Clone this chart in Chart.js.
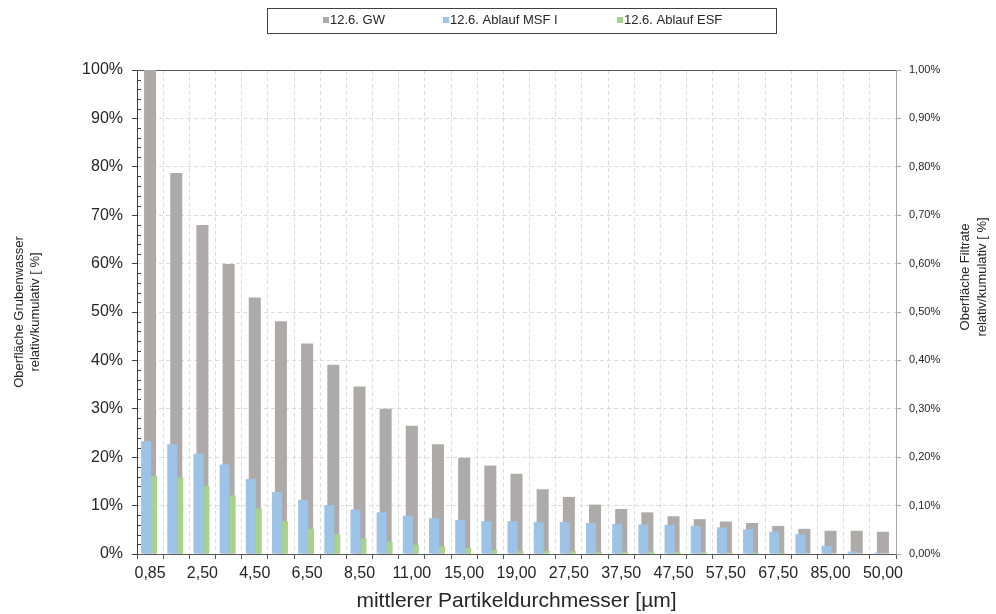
<!DOCTYPE html>
<html lang="de">
<head>
<meta charset="UTF-8">
<title>Oberfläche Partikel</title>
<script src="https://cdn.jsdelivr.net/npm/chart.js"></script>
<style>
  body { margin: 0; background: #fff; }
  #chart { display: block; }
</style>
</head>
<body>
<canvas id="chart" width="996" height="614"></canvas>
<script>
// mittlerer Partikeldurchmesser (nur jede zweite Klasse wird beschriftet)
const categories = ['0,85','1,50','2,50','3,50','4,50','5,50','6,50','7,50','8,50','9,50',
                    '11,00','13,00','15,00','17,00','19,00','22,50','27,50','32,50','37,50','42,50',
                    '47,50','52,50','57,50','62,50','67,50','75,00','85,00','95,00','50,00'];

// linke Achse [%]
const gwValues = [100, 78.7, 68.0, 59.9, 53.0, 48.1, 43.5, 39.1, 34.6, 30.0,
                  26.5, 22.7, 19.9, 18.3, 16.6, 13.4, 11.8, 10.2, 9.3, 8.6,
                  7.8, 7.2, 6.7, 6.4, 5.8, 5.2, 4.8, 4.8, 4.6];

// rechte Achse [%]
const msfValues = [0.233, 0.227, 0.207, 0.185, 0.155, 0.128, 0.112, 0.101, 0.092, 0.086,
                   0.079, 0.074, 0.070, 0.068, 0.068, 0.066, 0.066, 0.064, 0.062, 0.061,
                   0.060, 0.058, 0.055, 0.051, 0.046, 0.041, 0.017, 0.005, 0.003];
const esfValues = [0.161, 0.158, 0.140, 0.121, 0.094, 0.068, 0.052, 0.041, 0.032, 0.025,
                   0.019, 0.016, 0.012, 0.008, 0.006, 0.006, 0.006, 0.005, 0.005, 0.005,
                   0.005, 0.004, 0.003, 0.003, 0.002, 0.0015, 0.001, 0.0005, 0.0005];

const seriesNames = ['12.6. GW', '12.6. Ablauf MSF I', '12.6. Ablauf ESF'];
const seriesColors = ['#aeaaaa', '#9dc3e6', '#a9d18e'];

const leftTitle = ['Oberfläche Grubenwasser', 'relativ/kumulativ [ %]'];
const rightTitle = ['Oberfläche Filtrate', 'relativ/kumulativ [ %]'];
const xTitle = 'mittlerer Partikeldurchmesser [µm]';

const FONT = "'Liberation Sans', Arial, sans-serif";
Chart.defaults.font.family = FONT;
Chart.defaults.color = '#262626';

// Legende mit Rahmen, Titel rechts, kleine Zwischenstriche links, obere Linie
const extras = {
  id: 'extras',
  beforeDatasetsDraw(chart) {
    const { ctx, chartArea: a, scales } = chart;
    ctx.save();
    ctx.strokeStyle = '#404040';
    ctx.lineWidth = 1;
    ctx.beginPath();
    for (let v = 2; v < 100; v += 2) {
      if (v % 10 === 0) continue;
      const py = Math.round(scales.y.getPixelForValue(v)) + 0.5;
      ctx.moveTo(a.left, py);
      ctx.lineTo(a.left + 4, py);
    }
    ctx.stroke();
    ctx.strokeStyle = '#595959';
    ctx.beginPath();
    ctx.moveTo(a.left, Math.round(a.top) + 0.5);
    ctx.lineTo(a.right, Math.round(a.top) + 0.5);
    ctx.stroke();
    ctx.restore();
  },
  afterDraw(chart) {
    const ctx = chart.ctx;
    ctx.save();
    // Legende
    ctx.strokeStyle = '#404040';
    ctx.lineWidth = 1;
    ctx.strokeRect(267.5, 8.5, 509, 25);
    const starts = [323, 443, 617];
    ctx.font = '13px ' + FONT;
    ctx.textBaseline = 'middle';
    ctx.textAlign = 'left';
    chart.data.datasets.forEach((ds, i) => {
      ctx.fillStyle = ds.backgroundColor;
      ctx.fillRect(starts[i], 17, 6, 6);
      ctx.fillStyle = '#262626';
      ctx.fillText(ds.label, starts[i] + 7, 20.5);
    });
    // Titel rechte Achse
    ctx.font = '13px ' + FONT;
    ctx.textAlign = 'center';
    const xs = [965, 982];
    rightTitle.forEach((line, i) => {
      ctx.save();
      ctx.translate(xs[i], 277);
      ctx.rotate(-Math.PI / 2);
      ctx.fillText(line, 0, 0);
      ctx.restore();
    });
    ctx.restore();
  }
};

new Chart(document.getElementById('chart'), {
  type: 'bar',
  data: {
    labels: categories,
    datasets: [
      {
        label: seriesNames[0],
        data: gwValues,
        backgroundColor: seriesColors[0],
        yAxisID: 'y',
        order: 2,
        grouped: false,
        categoryPercentage: 1,
        barPercentage: 0.46
      },
      {
        label: seriesNames[1],
        data: msfValues,
        backgroundColor: seriesColors[1],
        yAxisID: 'y2',
        order: 1,
        categoryPercentage: 0.61,
        barPercentage: 1.25
      },
      {
        label: seriesNames[2],
        data: esfValues,
        backgroundColor: seriesColors[2],
        yAxisID: 'y2',
        order: 1,
        categoryPercentage: 0.61,
        barPercentage: 0.75
      }
    ]
  },
  options: {
    responsive: false,
    animation: false,
    devicePixelRatio: 1,
    layout: { padding: { top: 70, left: 0, right: 0, bottom: 0 } },
    plugins: {
      legend: { display: false },
      tooltip: { enabled: false }
    },
    scales: {
      x: {
        type: 'category',
        position: 'bottom',
        offset: true,
        afterFit: s => { s.height = 60; },
        grid: {
          offset: true,
          color: '#dcdcdc',
          tickColor: '#595959',
          tickLength: 5,
          tickBorderDash: []
        },
        border: { color: '#595959', dash: [4, 3] },
        ticks: {
          autoSkip: false,
          maxRotation: 0,
          padding: 5,
          font: { size: 16 },
          color: '#262626',
          callback: (v, i) => (i % 2 === 0 ? categories[i] : '')
        },
        title: {
          display: true,
          text: xTitle,
          font: { size: 21 },
          color: '#262626',
          padding: { top: 0, bottom: 0 }
        }
      },
      y: {
        position: 'left',
        min: 0,
        max: 100,
        afterFit: s => { s.width = 137; },
        ticks: {
          stepSize: 10,
          padding: 9,
          font: { size: 16 },
          color: '#262626',
          callback: v => v + '%'
        },
        grid: {
          color: '#dcdcdc',
          tickColor: '#404040',
          tickLength: 5,
          tickBorderDash: []
        },
        border: { color: '#404040', dash: [4, 3] },
        title: {
          display: true,
          text: leftTitle,
          font: { size: 13, lineHeight: 1.25 },
          color: '#262626',
          padding: { top: 11, bottom: 0 }
        }
      },
      y2: {
        position: 'right',
        min: 0,
        max: 1,
        afterFit: s => { s.width = 100; },
        ticks: {
          stepSize: 0.1,
          padding: 8,
          font: { size: 11 },
          color: '#262626',
          callback: v => v.toFixed(2).replace('.', ',') + '%'
        },
        grid: {
          drawOnChartArea: false,
          tickColor: '#a6a6a6',
          tickLength: 5
        },
        border: { color: '#a6a6a6' }
      }
    }
  },
  plugins: [extras]
});
</script>
</body>
</html>
